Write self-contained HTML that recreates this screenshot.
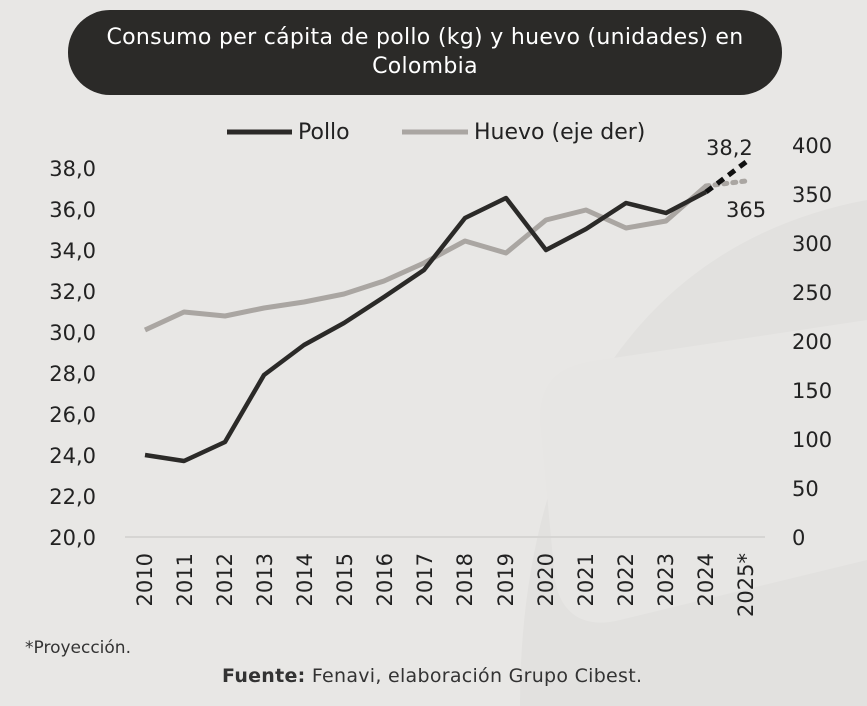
<!DOCTYPE html>
<html><head><meta charset="utf-8"><style>
body{margin:0;width:867px;height:706px;background:#e8e7e5;font-family:"DejaVu Sans","Liberation Sans",sans-serif;overflow:hidden;position:relative}
.t{position:absolute;left:68px;top:10px;width:714px;height:85px;background:#2b2a28;border-radius:42px;color:#fff;font-size:22px;text-align:center;line-height:29px;box-sizing:border-box;padding-top:13px;letter-spacing:0.3px}
</style></head><body>
<div class="t">Consumo per cápita de pollo (kg) y huevo (unidades) en<br>Colombia</div>
<svg width="867" height="706" style="position:absolute;left:0;top:0" font-family="DejaVu Sans, Liberation Sans, sans-serif">
<path d="M520 706 C520 420 650 240 867 200 L867 706 Z" fill="#e2e1df"/>
<path d="M540 420 C540 380 560 365 600 360 L867 320 L867 560 L620 620 C580 630 560 610 555 580 Z" fill="#e7e6e4"/>
<line x1="125" y1="537" x2="765" y2="537" stroke="#d6d5d3" stroke-width="2"/>
<g font-size="21" fill="#222" text-anchor="end">
<text x="96" y="545">20,0</text><text x="96" y="504">22,0</text><text x="96" y="463">24,0</text><text x="96" y="422">26,0</text><text x="96" y="381">28,0</text><text x="96" y="340">30,0</text><text x="96" y="299">32,0</text><text x="96" y="258">34,0</text><text x="96" y="217">36,0</text><text x="96" y="176">38,0</text>
</g>
<g font-size="21" fill="#222" text-anchor="start">
<text x="792" y="545">0</text><text x="792" y="496">50</text><text x="792" y="447">100</text><text x="792" y="398">150</text><text x="792" y="349">200</text><text x="792" y="300">250</text><text x="792" y="251">300</text><text x="792" y="202">350</text><text x="792" y="153">400</text>
</g>
<g font-size="21" fill="#222" text-anchor="end">
<text transform="translate(152,553) rotate(-90)">2010</text>
<text transform="translate(192,553) rotate(-90)">2011</text>
<text transform="translate(232,553) rotate(-90)">2012</text>
<text transform="translate(272,553) rotate(-90)">2013</text>
<text transform="translate(312,553) rotate(-90)">2014</text>
<text transform="translate(352,553) rotate(-90)">2015</text>
<text transform="translate(392,553) rotate(-90)">2016</text>
<text transform="translate(432,553) rotate(-90)">2017</text>
<text transform="translate(472,553) rotate(-90)">2018</text>
<text transform="translate(513,553) rotate(-90)">2019</text>
<text transform="translate(553,553) rotate(-90)">2020</text>
<text transform="translate(593,553) rotate(-90)">2021</text>
<text transform="translate(633,553) rotate(-90)">2022</text>
<text transform="translate(673,553) rotate(-90)">2023</text>
<text transform="translate(713,553) rotate(-90)">2024</text>
<text transform="translate(753,553) rotate(-90)">2025*</text>
</g>
<polyline fill="none" stroke="#aaa6a2" stroke-width="5" stroke-linejoin="round" points="145,330 184,312 225,316 264,308 304,302 344,294 384,281 424,263 465,241 506,253 546,220 586,210 626,228 666,221 706,186"/>
<polyline fill="none" stroke="#2b2a28" stroke-width="4.5" stroke-linejoin="round" points="145,455 184,461 225,442 264,375 304,345 344,323 384,297 424,270 465,218 506,198 546,250 586,229 626,203 666,213 706,192"/>
<line x1="706" y1="186" x2="746" y2="181" stroke="#aaa6a2" stroke-width="5" stroke-dasharray="3,6" stroke-linecap="round"/>
<line x1="706" y1="192" x2="746" y2="162" stroke="#111" stroke-width="5" stroke-dasharray="8,6"/>
<text x="706" y="155" font-size="21" fill="#222">38,2</text>
<text x="726" y="217" font-size="21" fill="#222">365</text>
<line x1="227" y1="132" x2="292" y2="132" stroke="#2b2a28" stroke-width="5"/>
<text x="298" y="139" font-size="22" fill="#222">Pollo</text>
<line x1="402" y1="132" x2="468" y2="132" stroke="#aaa6a2" stroke-width="5"/>
<text x="474" y="139" font-size="22" fill="#222">Huevo (eje der)</text>
<text x="25" y="653" font-size="17" fill="#333">*Proyección.</text>
<text x="222" y="682" font-size="19" fill="#333" textLength="420"><tspan font-weight="bold">Fuente:</tspan> Fenavi, elaboración Grupo Cibest.</text>
</svg>
</body></html>
